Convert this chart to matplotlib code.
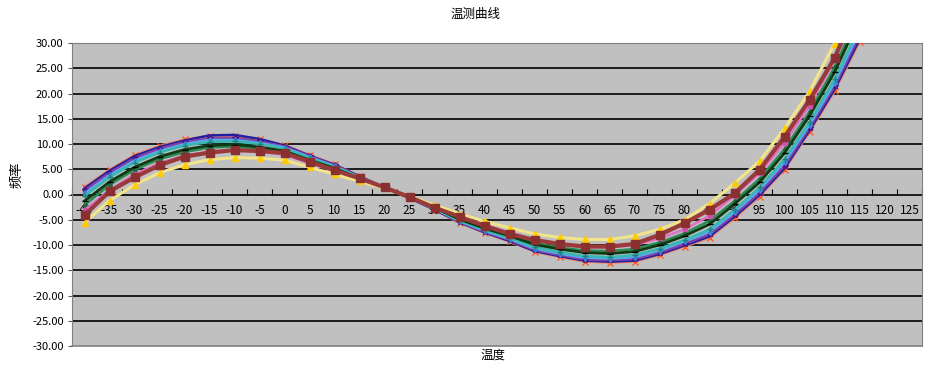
import numpy as np
import matplotlib
matplotlib.use('Agg')
import matplotlib.pyplot as plt

plt.rcParams['font.family'] = ['Noto Sans CJK SC', 'DejaVu Sans']

# categories on the x axis
temps = list(range(-40, 130, 5))
# data points exist from -40 to 115
t_data = list(range(-40, 120, 5))

# frequency curves, one list per series
orange = [1.5, 4.9, 7.8, 9.6, 10.9, 11.6, 11.6, 10.9, 9.8, 7.8, 6.0, 3.6, 1.4, -0.7, -3.0, -5.6,
          -7.6, -9.3, -11.3, -12.4, -13.3, -13.5, -13.3, -12.0, -10.3, -8.6, -4.7, -0.4, 4.9, 12.4, 20.4, 30.2]
navy = [1.2, 4.7, 7.6, 9.4, 10.7, 11.7, 11.8, 11.0, 9.7, 7.7, 5.9, 3.6, 1.4, -0.7, -3.0, -5.5,
        -7.5, -9.2, -11.2, -12.2, -13.1, -13.3, -13.1, -11.8, -10.1, -8.3, -4.4, -0.1, 5.2, 12.7, 20.8, 30.7]
purple = [0.8, 4.3, 7.2, 9.1, 10.4, 11.1, 11.2, 10.5, 9.5, 7.6, 5.8, 3.5, 1.4, -0.7, -2.9, -5.4,
          -7.4, -9.0, -11.0, -12.0, -12.9, -13.0, -12.8, -11.5, -9.8, -7.9, -4.0, 0.3, 5.7, 13.2, 21.4, 31.4]
sky = [0.2, 3.8, 6.7, 8.6, 10.0, 10.8, 10.8, 10.2, 9.3, 7.4, 5.6, 3.4, 1.4, -0.6, -2.8, -5.3,
       -7.2, -8.8, -10.7, -11.7, -12.5, -12.7, -12.4, -11.1, -9.3, -7.4, -3.5, 0.9, 6.4, 13.8, 22.1, 32.3]
teal = [-0.3, 3.4, 6.3, 8.3, 9.7, 10.4, 10.5, 10.0, 9.1, 7.2, 5.5, 3.4, 1.4, -0.6, -2.8, -5.2,
        -7.0, -8.6, -10.4, -11.4, -12.2, -12.4, -12.0, -10.7, -9.0, -6.9, -3.0, 1.4, 7.0, 14.4, 22.8, 33.2]
dkgreen = [-1.3, 2.5, 5.4, 7.5, 8.9, 9.7, 9.9, 9.4, 8.6, 6.8, 5.2, 3.2, 1.3, -0.6, -2.6, -4.9,
           -6.7, -8.2, -9.9, -10.8, -11.5, -11.7, -11.3, -10.0, -8.2, -5.9, -1.9, 2.4, 8.2, 15.6, 24.2, 34.9]
green = [-2.1, 1.9, 4.9, 7.0, 8.4, 9.3, 9.5, 9.1, 8.3, 6.6, 5.0, 3.1, 1.3, -0.6, -2.6, -4.7,
         -6.5, -8.0, -9.6, -10.5, -11.1, -11.2, -10.8, -9.5, -7.7, -5.2, -1.3, 3.1, 9.0, 16.4, 25.2, 36.1]
magenta = [-3.1, 0.9, 4.0, 6.2, 7.7, 8.5, 8.8, 8.5, 7.9, 6.2, 4.7, 3.0, 1.3, -0.5, -2.4, -4.4,
           -6.1, -7.5, -9.0, -9.9, -10.4, -10.5, -10.0, -8.7, -6.9, -4.2, -0.2, 4.2, 10.2, 17.6, 26.6, 37.9]
yellow = [-5.6, -1.2, 1.9, 4.3, 5.9, 6.9, 7.3, 7.2, 6.8, 5.4, 4.0, 2.6, 1.2, -0.4, -2.1, -3.8,
          -5.3, -6.6, -7.8, -8.5, -8.9, -8.9, -8.2, -6.9, -5.0, -1.8, 2.2, 6.6, 13.1, 20.4, 29.9, 42.0]
brown = [-4.1, 0.6, 3.4, 5.8, 7.5, 8.3, 8.8, 8.6, 8.2, 6.5, 4.8, 3.2, 1.4, -0.5, -2.6, -4.4,
         -6.2, -7.8, -9.0, -9.8, -10.3, -10.3, -9.8, -8.0, -5.7, -3.0, 0.2, 4.9, 11.4, 18.7, 27.0, 38.5]

yticks = list(range(-30, 35, 5))

fig = plt.figure(figsize=(9.52, 3.70), dpi=100)
ax = fig.add_axes([72/952, 24/370, 850/952, 303/370])
ax.set_facecolor('#c0c0c0')

xs = np.arange(len(t_data))

# (data, line colour, marker, marker colour, linewidth, markersize)
series = [
    (orange, '#f08a6a', 'x', '#ff5a1f', 1.8, 4),
    (navy, '#2020a0', 'None', '#2020a0', 1.8, 3),
    (purple, '#8040a8', '*', '#50108a', 1.8, 4),
    (sky, '#5aa8e8', 'd', '#3a88d8', 1.8, 3),
    (teal, '#38b8b0', '+', '#208080', 1.8, 4),
    (green, '#2e8b57', 'o', '#1f6b3f', 1.8, 2.5),
    (dkgreen, '#0e3a14', '_', '#000000', 2.0, 5),
    (magenta, '#e070c8', 's', '#d050b0', 1.8, 2.5),
    (yellow, '#f2e48a', '^', '#ffcc00', 2.2, 4.5),
    (brown, '#9a3a3a', 's', '#8a3030', 3.0, 5.5),
]
for data, lc, mk, mc, lw, ms in series:
    ax.plot(xs, data, color=lc, lw=lw, marker=mk, markersize=ms,
            markerfacecolor=mc, markeredgecolor=mc, zorder=3)

ax.set_xlim(-0.5, len(temps) - 0.5)
ax.set_ylim(-30, 30)

# horizontal grid lines
for v in yticks:
    if v not in (-30, 0, 30):
        ax.axhline(v, color='black', lw=1.2, zorder=1)

for s in ('left', 'top', 'right'):
    ax.spines[s].set_color('#808080')
ax.spines['bottom'].set_position(('data', 0))
ax.spines['bottom'].set_color('black')
ax.spines['bottom'].set_linewidth(1.2)
ax.spines['bottom'].set_zorder(2)
ax.axhline(-30, color='#808080', lw=1.2, zorder=2, clip_on=False)

ax.set_yticks(yticks)
ax.set_yticklabels(['%.2f' % v for v in yticks], fontsize=8)
ax.tick_params(axis='y', length=3, width=0.8, color='#606060', pad=3)

ax.set_xticks(np.arange(len(temps) + 1) - 0.5)
ax.set_xticklabels([])
ax.tick_params(axis='x', which='major', direction='in', length=4, width=0.8, color='black')
ax.set_xticks(np.arange(len(temps)), minor=True)
ax.set_xticklabels([str(t) for t in temps], minor=True, fontsize=8.5)
ax.tick_params(axis='x', which='minor', length=0, pad=7)

fig.text(0.5, 0.962, '温测曲线', ha='center', va='center', fontsize=9)
fig.text(17/952, 195/370, '频率', ha='center', va='center', rotation=90, fontsize=9.5)
fig.text(493/952, 15/370, '温度', ha='center', va='center', fontsize=9)

fig.savefig('out.png', dpi=100, facecolor='white')
